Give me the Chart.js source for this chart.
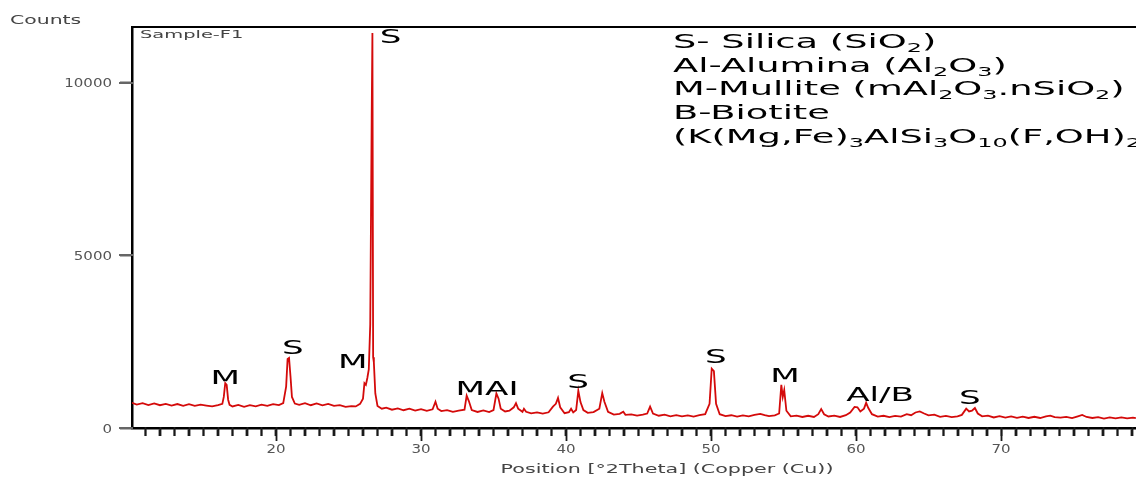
<!DOCTYPE html>
<html>
<head>
<meta charset="utf-8">
<script src="https://cdn.jsdelivr.net/npm/chart.js@4.4.0/dist/chart.umd.min.js"></script>
<style>
  html, body { margin: 0; padding: 0; background: #fff; overflow: hidden; }
  #wrap { width: 1136px; height: 477px; position: relative; }
</style>
</head>
<body>
<div id="wrap"><canvas id="xrd"></canvas></div>
<script>
// Diffraction pattern (2theta in degrees, counts)
const twoTheta = [
  10.07, 10.4, 10.8, 11.2, 11.6, 12.0, 12.4, 12.8, 13.2, 13.6, 14.0, 14.4, 14.8, 15.2, 15.6, 16.0, 16.3,
  16.4, 16.5, 16.6, 16.7, 16.8, 17.0, 17.4, 17.8, 18.2, 18.6, 19.0, 19.4, 19.8, 20.2, 20.5,
  20.7, 20.8, 20.9, 21.0, 21.1, 21.3, 21.6, 22.0, 22.4, 22.8, 23.2, 23.6, 24.0, 24.4, 24.8, 25.2, 25.5,
  25.8, 26.0, 26.1, 26.2, 26.3, 26.4, 26.5, 26.6, 26.65, 26.7, 26.75, 26.85, 27.0, 27.3, 27.6, 28.0,
  28.4, 28.8, 29.2, 29.6, 30.0, 30.4, 30.8, 31.0, 31.15, 31.4, 31.8, 32.2, 32.6, 33.0, 33.15, 33.3,
  33.5, 33.9, 34.3, 34.7, 35.0, 35.2, 35.35, 35.5, 35.8, 36.1, 36.4, 36.55, 36.7, 37.0, 37.1, 37.25,
  37.6, 38.0, 38.4, 38.8, 39.1, 39.3, 39.45, 39.6, 39.9, 40.2, 40.35, 40.5, 40.7, 40.85, 41.0, 41.2,
  41.5, 41.9, 42.3, 42.5, 42.65, 42.9, 43.3, 43.7, 43.95, 44.1, 44.5, 44.9, 45.3, 45.6, 45.8, 46.0,
  46.4, 46.8, 47.2, 47.6, 48.0, 48.4, 48.8, 49.2, 49.6, 49.9, 50.05, 50.2, 50.35, 50.6, 51.0, 51.4,
  51.8, 52.2, 52.6, 53.0, 53.4, 53.7, 54.0, 54.4, 54.7, 54.85, 54.95, 55.05, 55.2, 55.5, 55.9, 56.3,
  56.7, 57.1, 57.4, 57.6, 57.8, 58.1, 58.5, 58.9, 59.3, 59.6, 59.9, 60.1, 60.3, 60.55, 60.7, 60.85,
  61.1, 61.5, 61.9, 62.3, 62.7, 63.1, 63.5, 63.8, 64.1, 64.4, 64.7, 65.0, 65.4, 65.8, 66.2, 66.6,
  67.0, 67.3, 67.6, 67.8, 68.0, 68.2, 68.4, 68.7, 69.1, 69.5, 69.9, 70.3, 70.7, 71.1, 71.5, 71.9,
  72.3, 72.7, 73.1, 73.4, 73.7, 74.1, 74.5, 74.9, 75.3, 75.6, 75.9, 76.3, 76.7, 77.1, 77.5, 77.9,
  78.3, 78.7, 79.1, 79.3
];
const counts = [
  730, 680, 720, 665, 715, 660, 700, 650, 695, 645, 690, 640, 675, 650, 625, 665, 700,
  900, 1300, 1250, 820, 670, 625, 670, 615, 660, 630, 675, 640, 690, 665, 720,
  1200, 2000, 2030, 1500, 900, 710, 670, 720, 660, 710, 655, 700, 640, 660, 610, 635, 625,
  700, 850, 1300, 1250, 1450, 1700, 3000, 9000, 11450, 2050, 1900, 1000, 640, 560, 590, 530,
  570, 515, 560, 505, 545, 495, 540, 760, 560, 490, 520, 470, 505, 530, 940, 780,
  520, 465, 510, 460, 520, 1000, 850, 560, 480, 500, 600, 720, 560, 470, 560, 470,
  425, 455, 415, 455, 620, 700, 870, 600, 430, 460, 560, 450, 520, 1080, 750, 520,
  440, 460, 560, 1010, 760, 470, 390, 410, 470, 380, 395, 360, 385, 420, 620, 420,
  355, 385, 340, 375, 335, 365, 330, 370, 400, 700, 1720, 1650, 700, 400, 345, 370,
  330, 365, 335, 380, 410, 375, 345, 365, 420, 1250, 900, 1100, 500, 340, 360, 320,
  355, 320, 400, 550, 400, 335, 360, 320, 370, 450, 610, 600, 480, 560, 730, 580,
  400, 330, 355, 315, 350, 330, 400, 370, 450, 480, 420, 365, 385, 325, 350, 315,
  340, 380, 560, 480, 500, 580, 420, 340, 360, 305, 345, 300, 335, 295, 330, 290,
  325, 290, 340, 360, 315, 300, 320, 285, 340, 380, 320, 290, 315, 275, 310, 280,
  305, 280, 300, 285
];

// Phase marks above the peaks: text, 2theta, counts (text baseline)
const peakText  = ['M',  'S',   'M',   'S',   'MAI', 'S',   'S',   'M',   'Al/B', 'S'];
const peakTheta = [16.5, 21.17, 25.3,  27.9,  34.55, 40.83, 50.34, 55.1,  61.66,  67.86];
const peakCount = [1280, 2145,  1740,  11160, 957,   1160,  1885,  1334,  783,    696];

// Phase key, "_" marks a subscript run
const keyLines = [
  ['S- Silica (SiO', '_2', ')'],
  ['Al-Alumina (Al', '_2', 'O', '_3', ')'],
  ['M-Mullite (mAl', '_2', 'O', '_3', '.nSiO', '_2', ')'],
  ['B-Biotite'],
  ['(K(Mg,Fe)', '_3', 'AlSi', '_3', 'O', '_10', '(F,OH)', '_2', ')']
];

const yTickValues = [0, 5000, 10000];
const xTickLabels = [20, 30, 40, 50, 60, 70];

const X_MIN = 10.07, X_MAX = 79.31, Y_MAX = 11623;
const FONT = '"DejaVu Sans", sans-serif';

// one tick per degree along the 2theta axis
const degreeTicks = [];
for (let d = Math.ceil(X_MIN); d <= Math.floor(X_MAX); d++) degreeTicks.push(d);

// wide text like the source picture
function wideText(ctx, text, x, y, size, sx, align, color) {
  ctx.save();
  ctx.font = size + 'px ' + FONT;
  ctx.fillStyle = color;
  ctx.textBaseline = 'alphabetic';
  ctx.textAlign = 'left';
  const w = ctx.measureText(text).width * sx;
  let x0 = x;
  if (align === 'center') x0 = x - w / 2;
  if (align === 'right') x0 = x - w;
  ctx.translate(x0, y);
  ctx.scale(sx, 1);
  ctx.fillText(text, 0, 0);
  ctx.restore();
  return w;
}

const decorations = {
  id: 'decorations',
  afterDraw(chart) {
    const { ctx, chartArea: a, scales: { x, y } } = chart;

    // tick labels
    yTickValues.forEach(v => {
      wideText(ctx, String(v), 112, y.getPixelForValue(v) + 4.5, 12, 1.25, 'right', '#555');
    });
    xTickLabels.forEach(v => {
      wideText(ctx, String(v), x.getPixelForValue(v), a.bottom + 25, 12, 1.25, 'center', '#555');
    });

    wideText(ctx, 'Counts', 10, 24, 12, 1.7, 'left', '#444');
    wideText(ctx, 'Sample-F1', 140, 38, 10.5, 1.85, 'left', '#444');
    wideText(ctx, 'Position [°2Theta] (Copper (Cu))', 667, 473, 12, 1.72, 'center', '#444');

    // phase marks
    peakText.forEach((t, i) => {
      wideText(ctx, t, x.getPixelForValue(peakTheta[i]), y.getPixelForValue(peakCount[i]), 19, 1.8, 'center', '#000');
    });

    // phase key
    keyLines.forEach((parts, i) => {
      let cx = 673;
      const base = 48 + i * 23.7;
      parts.forEach(p => {
        if (p.startsWith('_')) {
          cx += wideText(ctx, p.slice(1), cx, base + 4, 13, 1.84, 'left', '#000');
        } else {
          cx += wideText(ctx, p, cx, base, 20, 1.84, 'left', '#000');
        }
      });
    });

    // frame and tick marks, stroked last
    ctx.save();
    ctx.setLineDash([]);
    ctx.globalAlpha = 1;
    ctx.lineCap = 'butt';
    ctx.strokeStyle = '#000';
    ctx.lineWidth = 2;
    ctx.beginPath();
    ctx.moveTo(a.left, a.top);
    ctx.lineTo(a.right, a.top);
    ctx.stroke();

    ctx.strokeStyle = '#1a1a1a';
    ctx.lineWidth = 1.8;
    ctx.beginPath();
    degreeTicks.forEach(v => {
      const px = Math.round(x.getPixelForValue(v)) + 0.5;
      ctx.moveTo(px, a.bottom - 1);
      ctx.lineTo(px, a.bottom + (v % 10 === 0 ? 13 : 8));
    });
    ctx.stroke();

    ctx.strokeStyle = '#666';
    ctx.lineWidth = 2;
    ctx.beginPath();
    yTickValues.forEach(v => {
      const py = Math.round(y.getPixelForValue(v));
      ctx.moveTo(a.left - 13, py);
      ctx.lineTo(a.left + 1, py);
    });
    ctx.stroke();
    ctx.restore();
  }
};

const points = twoTheta.map((t, i) => ({ x: t, y: counts[i] }));

new Chart(document.getElementById('xrd'), {
  type: 'line',
  data: {
    datasets: [{
      data: points,
      borderColor: '#d40a0a',
      borderWidth: 1.8,
      pointRadius: 0,
      tension: 0,
      fill: false
    }]
  },
  options: {
    animation: false,
    responsive: true,
    maintainAspectRatio: false,
    layout: { padding: { top: 27, right: 0, left: 0, bottom: 0 } },
    plugins: { legend: { display: false }, tooltip: { enabled: false } },
    scales: {
      x: {
        type: 'linear', min: X_MIN, max: X_MAX,
        afterFit: s => { s.height = 49; },
        afterBuildTicks: s => { s.ticks = degreeTicks.map(v => ({ value: v })); },
        border: { display: true, color: '#000', width: 2.5 },
        grid: { display: true, drawOnChartArea: false, drawTicks: true, tickLength: 8, tickColor: '#1a1a1a', tickWidth: 1.8 },
        ticks: { autoSkip: false, maxRotation: 0, callback: () => '' }
      },
      y: {
        min: 0, max: Y_MAX,
        afterFit: s => { s.width = 132; },
        afterBuildTicks: s => { s.ticks = yTickValues.map(v => ({ value: v })); },
        border: { display: true, color: '#000', width: 2.5 },
        grid: { display: true, drawOnChartArea: false, drawTicks: true, tickLength: 12, tickColor: '#666', tickWidth: 2 },
        ticks: { callback: () => '' }
      }
    }
  },
  plugins: [decorations]
});
</script>
</body>
</html>
